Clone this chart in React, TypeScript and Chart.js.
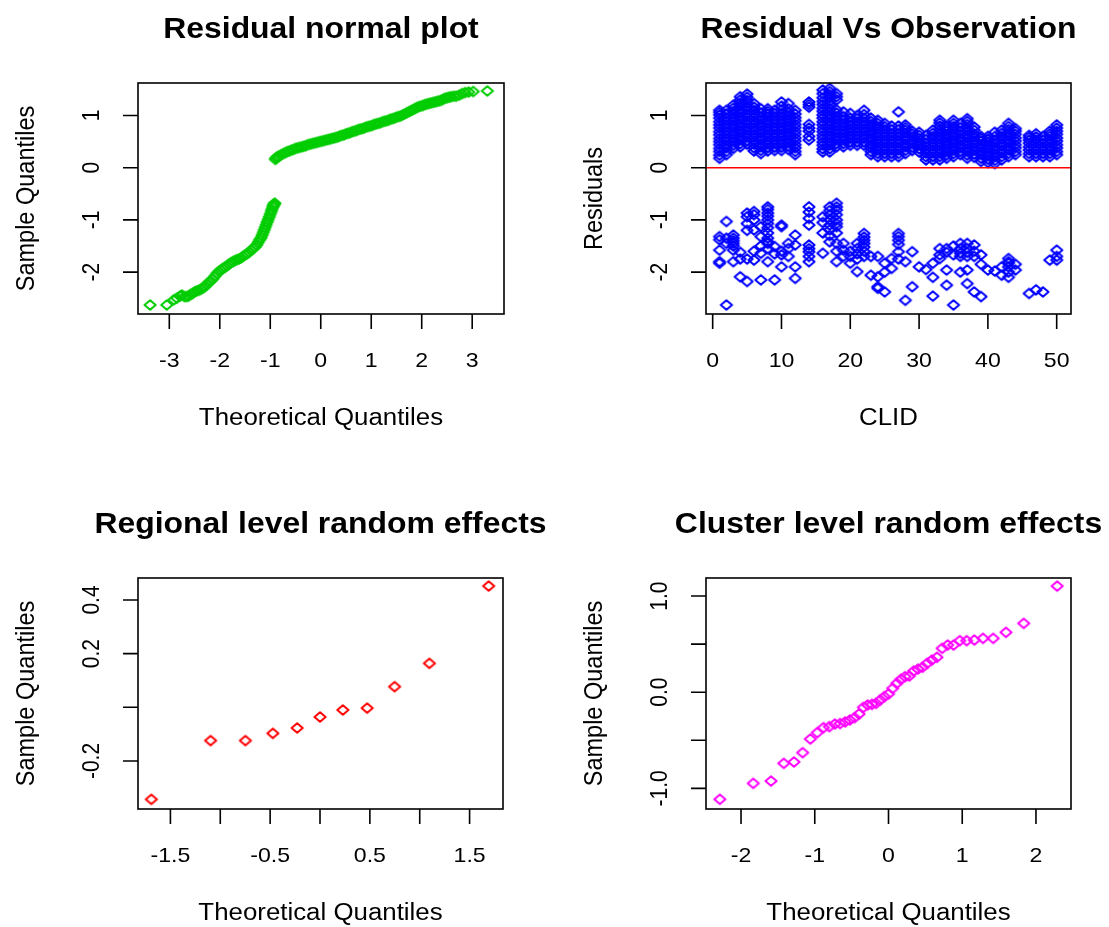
import React, { useEffect, useRef } from "react";
import { Chart, registerables } from "chart.js";

Chart.register(...registerables);

// ---------- Panel 1: Residual normal plot (theoretical vs sample quantiles) ----------
const residTheoretical: number[] = [
  -3.38, -3.05, -2.91, -2.85, -2.79, -2.75, -2.7, -2.66, -2.62, -2.58, -2.54, -2.5, -2.46, -2.42,
  -2.38, -2.34, -2.3, -2.26, -2.22, -2.18, -2.14, -2.1, -2.06, -2.02, -1.98, -1.94, -1.9, -1.86,
  -1.82, -1.78, -1.74, -1.7, -1.66, -1.62, -1.58, -1.54, -1.5, -1.46, -1.42, -1.38, -1.34, -1.3,
  -1.27, -1.24, -1.21, -1.18, -1.16, -1.14, -1.12, -1.1, -1.08, -1.06, -1.04, -1.02, -1.0, -0.98,
  -0.97, -0.95, -0.94, -0.93, -0.92, -0.91,
  -0.9, -0.89, -0.87, -0.85, -0.82, -0.78, -0.74, -0.7, -0.66, -0.62, -0.58, -0.54, -0.5, -0.46,
  -0.42, -0.38, -0.34, -0.3, -0.26, -0.22, -0.18, -0.14, -0.1, -0.06, -0.02, 0.02, 0.06, 0.1, 0.14,
  0.18, 0.22, 0.26, 0.3, 0.34, 0.38, 0.42, 0.46, 0.5, 0.54, 0.58, 0.62, 0.66, 0.7, 0.74, 0.78, 0.82,
  0.86, 0.9, 0.94, 0.98, 1.02, 1.06, 1.1, 1.14, 1.18, 1.22, 1.26, 1.3, 1.34, 1.38, 1.42, 1.46, 1.5,
  1.54, 1.58, 1.62, 1.66, 1.7, 1.74, 1.78, 1.82, 1.86, 1.9, 1.94, 1.98, 2.02, 2.06, 2.1, 2.14, 2.18,
  2.22, 2.26, 2.3, 2.34, 2.38, 2.42, 2.46, 2.5, 2.54, 2.58, 2.63, 2.68, 2.74, 2.8, 2.86, 2.93, 3.02,
  3.3,
];
const residSample: number[] = [
  -2.63, -2.63, -2.53, -2.5, -2.46, -2.44, -2.47, -2.47, -2.46, -2.43, -2.41, -2.38, -2.36, -2.35,
  -2.33, -2.31, -2.28, -2.24, -2.2, -2.17, -2.13, -2.08, -2.03, -1.99, -1.96, -1.93, -1.91, -1.88,
  -1.85, -1.82, -1.8, -1.78, -1.76, -1.75, -1.73, -1.7, -1.67, -1.65, -1.62, -1.58, -1.55, -1.52,
  -1.48, -1.43, -1.38, -1.34, -1.29, -1.24, -1.19, -1.14, -1.09, -1.04, -0.99, -0.94, -0.89, -0.84,
  -0.8, -0.76, -0.73, -0.71, -0.69, -0.68,
  0.16, 0.18, 0.2, 0.21, 0.23, 0.25, 0.27, 0.29, 0.31, 0.32, 0.34, 0.35, 0.37, 0.38,
  0.39, 0.4, 0.41, 0.42, 0.44, 0.45, 0.46, 0.47, 0.48, 0.49, 0.5, 0.51, 0.52, 0.53, 0.54,
  0.55, 0.56, 0.57, 0.58, 0.59, 0.61, 0.62, 0.63, 0.65, 0.66, 0.67, 0.69, 0.7, 0.71, 0.73, 0.74, 0.75,
  0.76, 0.78, 0.79, 0.8, 0.81, 0.83, 0.84, 0.85, 0.86, 0.88, 0.89, 0.9, 0.91, 0.93, 0.94, 0.95, 0.97,
  0.98, 0.99, 1.01, 1.03, 1.05, 1.07, 1.09, 1.11, 1.13, 1.15, 1.17, 1.18, 1.19, 1.21, 1.22, 1.23, 1.24,
  1.25, 1.26, 1.27, 1.28, 1.29, 1.31, 1.33, 1.34, 1.35, 1.36, 1.37, 1.37, 1.39, 1.42, 1.44, 1.45, 1.46,
  1.47,
];

// ---------- Panel 2: Residual vs Observation (CLID) ----------
const clusterIds: number[] = Array.from({ length: 50 }, (_, i) => i + 1);
const upperResiduals: number[][] = [
  [0.18, 0.24, 0.31, 0.37, 0.44, 0.5, 0.56, 0.63, 0.69, 0.76, 0.82, 0.88, 0.95, 1.01, 1.06, 1.1],
  [0.25, 0.31, 0.38, 0.44, 0.51, 0.57, 0.64, 0.7, 0.77, 0.83, 0.9, 0.96, 1.03, 1.1],
  [0.37, 0.43, 0.5, 0.56, 0.63, 0.69, 0.76, 0.82, 0.89, 0.95, 1.02, 1.08, 1.14, 1.2],
  [0.4, 0.46, 0.53, 0.59, 0.66, 0.72, 0.79, 0.85, 0.92, 0.98, 1.05, 1.11, 1.18, 1.24, 1.3, 1.36],
  [0.45, 0.51, 0.58, 0.64, 0.71, 0.77, 0.84, 0.9, 0.97, 1.03, 1.1, 1.16, 1.23, 1.29, 1.35, 1.41],
  [0.32, 0.38, 0.45, 0.51, 0.58, 0.64, 0.71, 0.77, 0.84, 0.9, 0.97, 1.03, 1.1, 1.16, 1.23],
  [0.27, 0.33, 0.4, 0.46, 0.53, 0.59, 0.66, 0.72, 0.79, 0.85, 0.92, 0.98, 1.05, 1.13],
  [0.32, 0.38, 0.45, 0.51, 0.58, 0.64, 0.71, 0.77, 0.84, 0.9, 0.97, 1.03, 1.08, 1.13],
  [0.33, 0.39, 0.46, 0.52, 0.59, 0.65, 0.72, 0.78, 0.85, 0.91, 0.98, 1.04, 1.1],
  [0.33, 0.39, 0.46, 0.52, 0.59, 0.65, 0.72, 0.78, 0.85, 0.91, 0.98, 1.04, 1.11, 1.18, 1.26],
  [0.35, 0.41, 0.48, 0.54, 0.61, 0.67, 0.74, 0.8, 0.87, 0.93, 1.0, 1.06, 1.13, 1.23],
  [0.25, 0.31, 0.38, 0.44, 0.51, 0.57, 0.64, 0.7, 0.77, 0.83, 0.9, 0.96, 1.03, 1.1],
  [],
  [0.53, 0.6, 0.7, 0.76, 0.83, 1.16, 1.21, 1.26],
  [],
  [0.3, 0.36, 0.43, 0.49, 0.56, 0.62, 0.69, 0.75, 0.82, 0.88, 0.95, 1.01, 1.08, 1.14, 1.21, 1.27, 1.34, 1.42, 1.49],
  [0.3, 0.36, 0.43, 0.49, 0.56, 0.62, 0.69, 0.75, 0.82, 0.88, 0.95, 1.01, 1.08, 1.14, 1.21, 1.27, 1.34, 1.4, 1.46, 1.52],
  [0.4, 0.46, 0.53, 0.59, 0.66, 0.72, 0.79, 0.85, 0.92, 0.98, 1.05, 1.11, 1.3, 1.36, 1.42],
  [0.4, 0.46, 0.53, 0.59, 0.66, 0.72, 0.79, 0.85, 0.92, 0.98, 1.07],
  [0.43, 0.49, 0.56, 0.62, 0.69, 0.75, 0.82, 0.88, 0.95, 1.04],
  [0.43, 0.49, 0.56, 0.62, 0.69, 0.75, 0.82, 0.88, 0.94, 1.0],
  [0.43, 0.49, 0.56, 0.62, 0.69, 0.75, 0.82, 0.88, 0.95, 1.02, 1.1],
  [0.25, 0.31, 0.38, 0.44, 0.51, 0.57, 0.64, 0.7, 0.77, 0.83, 0.89, 0.95],
  [0.21, 0.27, 0.34, 0.4, 0.47, 0.53, 0.6, 0.66, 0.73, 0.79, 0.85, 0.91],
  [0.21, 0.27, 0.34, 0.4, 0.47, 0.53, 0.6, 0.66, 0.73, 0.79, 0.85],
  [0.21, 0.27, 0.34, 0.4, 0.47, 0.53, 0.6, 0.66, 0.73, 0.8],
  [0.21, 0.27, 0.34, 0.4, 0.47, 0.53, 0.6, 0.66, 0.73, 0.8, 1.07],
  [0.27, 0.33, 0.4, 0.46, 0.53, 0.59, 0.66, 0.72, 0.77, 0.82],
  [0.33, 0.39, 0.46, 0.52, 0.59, 0.65, 0.7],
  [0.3, 0.36, 0.43, 0.49, 0.56, 0.62, 0.68],
  [0.15, 0.21, 0.28, 0.34, 0.41, 0.47, 0.54, 0.62],
  [0.15, 0.21, 0.28, 0.34, 0.41, 0.47, 0.54, 0.6, 0.66, 0.72],
  [0.15, 0.21, 0.28, 0.34, 0.41, 0.47, 0.54, 0.6, 0.67, 0.73, 0.8, 0.86, 0.91],
  [0.18, 0.24, 0.31, 0.37, 0.44, 0.5, 0.57, 0.63, 0.7, 0.75, 0.8],
  [0.21, 0.27, 0.34, 0.4, 0.47, 0.53, 0.6, 0.66, 0.73, 0.79, 0.85, 0.91],
  [0.25, 0.31, 0.38, 0.44, 0.51, 0.57, 0.64, 0.7, 0.77, 0.85],
  [0.18, 0.24, 0.31, 0.37, 0.44, 0.5, 0.57, 0.63, 0.7, 0.76, 0.83, 0.89, 0.94],
  [0.2, 0.26, 0.33, 0.39, 0.46, 0.52, 0.59, 0.65, 0.72, 0.78],
  [0.12, 0.18, 0.25, 0.31, 0.38, 0.44, 0.51, 0.56, 0.6],
  [0.1, 0.16, 0.23, 0.29, 0.36, 0.42, 0.49, 0.55, 0.6],
  [0.08, 0.14, 0.21, 0.27, 0.34, 0.4, 0.47, 0.53, 0.6, 0.68],
  [0.15, 0.21, 0.28, 0.34, 0.41, 0.47, 0.54, 0.6, 0.66, 0.72],
  [0.21, 0.27, 0.34, 0.4, 0.47, 0.53, 0.6, 0.66, 0.73, 0.79, 0.85],
  [0.25, 0.31, 0.38, 0.44, 0.51, 0.57, 0.64, 0.7, 0.75],
  [],
  [0.21, 0.27, 0.34, 0.4, 0.47, 0.53, 0.58, 0.62],
  [0.21, 0.27, 0.34, 0.4, 0.47, 0.53, 0.59, 0.65],
  [0.21, 0.27, 0.34, 0.4, 0.47, 0.53, 0.6],
  [0.21, 0.27, 0.34, 0.4, 0.47, 0.53, 0.6, 0.65, 0.7],
  [0.25, 0.31, 0.38, 0.44, 0.51, 0.57, 0.64, 0.7, 0.76, 0.82],
];
const lowerResiduals: number[][] = [
  [-1.32, -1.38, -1.58, -1.83, -1.8],
  [-1.03, -2.63, -1.35, -1.45],
  [-1.29, -1.35, -1.4, -1.45, -1.5, -1.58, -1.8],
  [-2.09, -1.75, -1.62],
  [-0.94, -1.07, -2.18, -0.87, -1.2, -1.75],
  [-1.19, -1.77, -0.84, -0.9, -1.0, -1.6],
  [-2.15, -1.64, -1.13, -1.32, -1.5],
  [-0.75, -0.8, -0.87, -0.93, -1.0, -1.07, -1.15, -1.25, -1.35, -1.42, -1.45, -1.8, -1.55],
  [-2.15, -1.51, -1.65],
  [-1.13, -1.1, -1.67, -1.9, -1.6],
  [-1.45, -1.7, -1.55],
  [-1.29, -1.48, -1.9, -2.12],
  [],
  [-0.75, -0.85, -0.97, -1.1, -1.48, -1.55, -1.61, -1.8, -1.7],
  [],
  [-1.64, -0.94, -1.05, -1.25],
  [-1.42, -0.75, -0.82, -0.9, -1.0, -1.1, -1.19, -1.3],
  [-0.68, -0.75, -0.81, -0.9, -1.0, -1.07, -1.13, -1.25, -1.45, -1.6, -1.8],
  [-1.58, -1.7, -1.45],
  [-1.7, -1.83, -1.6],
  [-1.45, -1.99, -1.55, -1.65, -1.75],
  [-1.26, -1.33, -1.39, -1.45, -1.52, -1.6, -1.7],
  [-2.06, -1.7],
  [-1.7, -2.28, -2.31, -2.09],
  [-2.38, -1.83, -2.0],
  [-1.93, -1.74],
  [-1.26, -1.32, -1.39, -1.47, -1.61, -1.75],
  [-2.54, -1.8],
  [-2.28, -1.61],
  [-1.9],
  [-1.95],
  [-1.83, -2.46, -2.1],
  [-1.74, -1.67, -1.55],
  [-1.55, -1.96, -2.25, -1.62],
  [-2.63, -1.67, -1.5],
  [-1.45, -1.64, -1.55, -1.7, -2.0],
  [-2.22, -1.96, -1.55, -1.62, -1.7, -1.45],
  [-1.48, -1.7, -2.38, -1.6],
  [-2.47, -1.67, -1.85],
  [-1.96],
  [-1.98],
  [-1.9, -2.06],
  [-1.74, -1.83, -1.8, -1.9, -2.0, -2.1],
  [-1.96, -1.85],
  [],
  [-2.41],
  [-2.34],
  [-2.38],
  [-1.77],
  [-1.58, -1.77, -1.7],
];
const residualReference = 0;

// ---------- Panel 3: Regional level random effects ----------
const regionTheoretical: number[] = [-1.691, -1.097, -0.748, -0.473, -0.229, 0, 0.229, 0.473, 0.748, 1.097, 1.691];
const regionSample: number[] = [-0.343, -0.124, -0.124, -0.097, -0.077, -0.036, -0.01, -0.003, 0.077, 0.164, 0.452];

// ---------- Panel 4: Cluster level random effects ----------
const clusterTheoretical: number[] = [
  -2.287, -1.834, -1.593, -1.42, -1.282, -1.164, -1.06, -0.967, -0.882, -0.802, -0.728, -0.657, -0.589,
  -0.524, -0.461, -0.4, -0.341, -0.282, -0.224, -0.168, -0.112, -0.056, 0, 0.056, 0.112, 0.168, 0.224,
  0.282, 0.341, 0.4, 0.461, 0.524, 0.589, 0.657, 0.728, 0.802, 0.882, 0.967, 1.06, 1.164, 1.282, 1.42,
  1.593, 1.834, 2.287,
];
const clusterSample: number[] = [
  -1.114, -0.948, -0.924, -0.74, -0.726, -0.629, -0.487, -0.421, -0.369, -0.358, -0.331, -0.326, -0.309,
  -0.289, -0.265, -0.227, -0.158, -0.133, -0.126, -0.116, -0.081, -0.046, -0.019, 0.04, 0.092, 0.134,
  0.162, 0.168, 0.22, 0.241, 0.259, 0.3, 0.335, 0.363, 0.456, 0.491, 0.491, 0.536, 0.536, 0.543, 0.56,
  0.56, 0.623, 0.716, 1.104,
];

// ---------- Ticks ----------
const residXTicks = [-3, -2, -1, 0, 1, 2, 3];
const residXTickLabels = ["-3", "-2", "-1", "0", "1", "2", "3"];
const residYTicks = [-2, -1, 0, 1];
const residYTickLabels = ["-2", "-1", "0", "1"];
const clidTicks = [0, 10, 20, 30, 40, 50];
const clidTickLabels = ["0", "10", "20", "30", "40", "50"];
const regionXTicks = [-1.5, -1, -0.5, 0, 0.5, 1, 1.5];
const regionXTickLabels = ["-1.5", "", "-0.5", "", "0.5", "", "1.5"];
const regionYTicks = [-0.2, 0, 0.2, 0.4];
const regionYTickLabels = ["-0.2", "", "0.2", "0.4"];
const clusterXTicks = [-2, -1, 0, 1, 2];
const clusterXTickLabels = ["-2", "-1", "0", "1", "2"];
const clusterYTicks = [-1, -0.5, 0, 0.5, 1];
const clusterYTickLabels = ["-1.0", "", "0.0", "", "1.0"];

// ---------- Styling ----------
const FONT = '"Liberation Sans", Arial, Helvetica, sans-serif';
const SX = 1.1;

const rFramePlugin = {
  id: "rFrame",
  afterDatasetsDraw(chart: any, _args: any, opts: any) {
    const { ctx, chartArea: a, scales } = chart;
    const xs = scales.x;
    const ys = scales.y;
    ctx.save();
    ctx.strokeStyle = "#000";
    ctx.lineWidth = 1.6;
    ctx.strokeRect(a.left, a.top, a.right - a.left, a.bottom - a.top);
    ctx.beginPath();
    opts.xTicks.forEach((v: number) => {
      const px = xs.getPixelForValue(v);
      ctx.moveTo(px, a.bottom);
      ctx.lineTo(px, a.bottom + 15);
    });
    opts.yTicks.forEach((v: number) => {
      const py = ys.getPixelForValue(v);
      ctx.moveTo(a.left, py);
      ctx.lineTo(a.left - 15, py);
    });
    ctx.stroke();

    ctx.fillStyle = "#000";
    const text = (t: string, x: number, y: number, font: string, rotate: boolean) => {
      if (!t) return;
      ctx.save();
      ctx.translate(x, y);
      ctx.scale(SX, 1);
      if (rotate) ctx.rotate(-Math.PI / 2);
      ctx.font = font;
      ctx.textAlign = "center";
      ctx.textBaseline = "alphabetic";
      ctx.fillText(t, 0, 0);
      ctx.restore();
    };
    const cx = (a.left + a.right) / 2;
    const cy = (a.top + a.bottom) / 2;
    text(opts.title, cx, a.top - 45, `bold 29px ${FONT}`, false);
    opts.xTicks.forEach((v: number, i: number) => {
      text(opts.xTickLabels[i], xs.getPixelForValue(v), a.bottom + 53, `21px ${FONT}`, false);
    });
    opts.yTicks.forEach((v: number, i: number) => {
      text(opts.yTickLabels[i], a.left - 39, ys.getPixelForValue(v), `21px ${FONT}`, true);
    });
    text(opts.xLabel, cx, a.bottom + 111, `23.5px ${FONT}`, false);
    text(opts.yLabel, a.left - 104, cy, `23.5px ${FONT}`, true);
    ctx.restore();
  },
};

// hollow diamond marker (R pch = 5), slightly wider than tall
const makeMarker = (color: string) => {
  const c = document.createElement("canvas");
  c.width = 16;
  c.height = 14;
  const g = c.getContext("2d") as CanvasRenderingContext2D;
  g.strokeStyle = color;
  g.lineWidth = 2;
  g.lineJoin = "round";
  g.beginPath();
  g.moveTo(2.4, 7);
  g.lineTo(8, 2.3);
  g.lineTo(13.6, 7);
  g.lineTo(8, 11.7);
  g.closePath();
  g.stroke();
  return c;
};

const zip = (xs: number[], ys: number[]) => xs.map((x, i) => ({ x, y: ys[i] }));

type Panel = {
  left: number;
  top: number;
  width: number;
  height: number;
  pad: { left: number; top: number; right: number; bottom: number };
  x: [number, number];
  y: [number, number];
  frame: any;
  series: { points: { x: number; y: number }[]; color: string; line?: boolean }[];
};

const bX: [number, number] = [-0.97, 52.08];

const panels: Panel[] = [
  {
    left: 0, top: 0, width: 555, height: 463,
    pad: { left: 138, top: 83, right: 51, bottom: 149 },
    x: [-3.62, 3.63], y: [-2.803, 1.623],
    frame: {
      title: "Residual normal plot", xLabel: "Theoretical Quantiles", yLabel: "Sample Quantiles",
      xTicks: residXTicks, xTickLabels: residXTickLabels, yTicks: residYTicks, yTickLabels: residYTickLabels,
    },
    series: [{ points: zip(residTheoretical, residSample), color: "#00CD00" }],
  },
  {
    left: 555, top: 0, width: 554, height: 463,
    pad: { left: 151, top: 83, right: 38, bottom: 149 },
    x: bX, y: [-2.803, 1.623],
    frame: {
      title: "Residual Vs Observation", xLabel: "CLID", yLabel: "Residuals",
      xTicks: clidTicks, xTickLabels: clidTickLabels, yTicks: residYTicks, yTickLabels: residYTickLabels,
    },
    series: [
      { points: [{ x: bX[0], y: residualReference }, { x: bX[1], y: residualReference }], color: "#FF0000", line: true },
      { points: clusterIds.flatMap((id, k) => upperResiduals[k].map((v) => ({ x: id, y: v }))), color: "#0000FF" },
      { points: clusterIds.flatMap((id, k) => lowerResiduals[k].map((v) => ({ x: id, y: v }))), color: "#0000FF" },
    ],
  },
  {
    left: 0, top: 463, width: 555, height: 464,
    pad: { left: 138, top: 115, right: 52, bottom: 118 },
    x: [-1.825, 1.835], y: [-0.379, 0.482],
    frame: {
      title: "Regional level random effects", xLabel: "Theoretical Quantiles", yLabel: "Sample Quantiles",
      xTicks: regionXTicks, xTickLabels: regionXTickLabels, yTicks: regionYTicks, yTickLabels: regionYTickLabels,
    },
    series: [{ points: zip(regionTheoretical, regionSample), color: "#FF0000" }],
  },
  {
    left: 555, top: 463, width: 554, height: 464,
    pad: { left: 151, top: 115, right: 38, bottom: 118 },
    x: [-2.475, 2.475], y: [-1.215, 1.188],
    frame: {
      title: "Cluster level random effects", xLabel: "Theoretical Quantiles", yLabel: "Sample Quantiles",
      xTicks: clusterXTicks, xTickLabels: clusterXTickLabels, yTicks: clusterYTicks, yTickLabels: clusterYTickLabels,
    },
    series: [{ points: zip(clusterTheoretical, clusterSample), color: "#FF00FF" }],
  },
];

export default function App() {
  const canvases = useRef<(HTMLCanvasElement | null)[]>([]);

  useEffect(() => {
    const markers: Record<string, HTMLCanvasElement> = {};
    const marker = (color: string) => (markers[color] = markers[color] || makeMarker(color));

    const charts = panels.map((p, i) => {
      const canvas = canvases.current[i] as HTMLCanvasElement;
      const datasets = p.series.map((s) =>
        s.line
          ? {
              data: s.points,
              showLine: true,
              borderColor: s.color,
              borderWidth: 1.6,
              pointRadius: 0,
            }
          : {
              data: s.points,
              showLine: false,
              pointStyle: marker(s.color),
              pointRadius: 5,
              pointBorderWidth: 0,
            }
      );
      return new Chart(canvas, {
        type: "scatter",
        data: { datasets },
        options: {
          responsive: false,
          animation: false,
          devicePixelRatio: 1,
          events: [],
          layout: { padding: p.pad },
          plugins: {
            legend: { display: false },
            tooltip: { enabled: false },
            rFrame: p.frame,
          } as any,
          scales: {
            x: { type: "linear", min: p.x[0], max: p.x[1], display: false },
            y: { type: "linear", min: p.y[0], max: p.y[1], display: false },
          },
        },
        plugins: [rFramePlugin],
      } as any);
    });
    return () => charts.forEach((c) => c.destroy());
  }, []);

  return (
    <div style={{ position: "absolute", left: 0, top: 0, width: 1109, height: 927, background: "#fff" }}>
      {panels.map((p, i) => (
        <canvas
          key={i}
          ref={(el) => {
            canvases.current[i] = el;
          }}
          width={p.width}
          height={p.height}
          style={{ position: "absolute", left: p.left, top: p.top, width: p.width, height: p.height }}
        />
      ))}
    </div>
  );
}
